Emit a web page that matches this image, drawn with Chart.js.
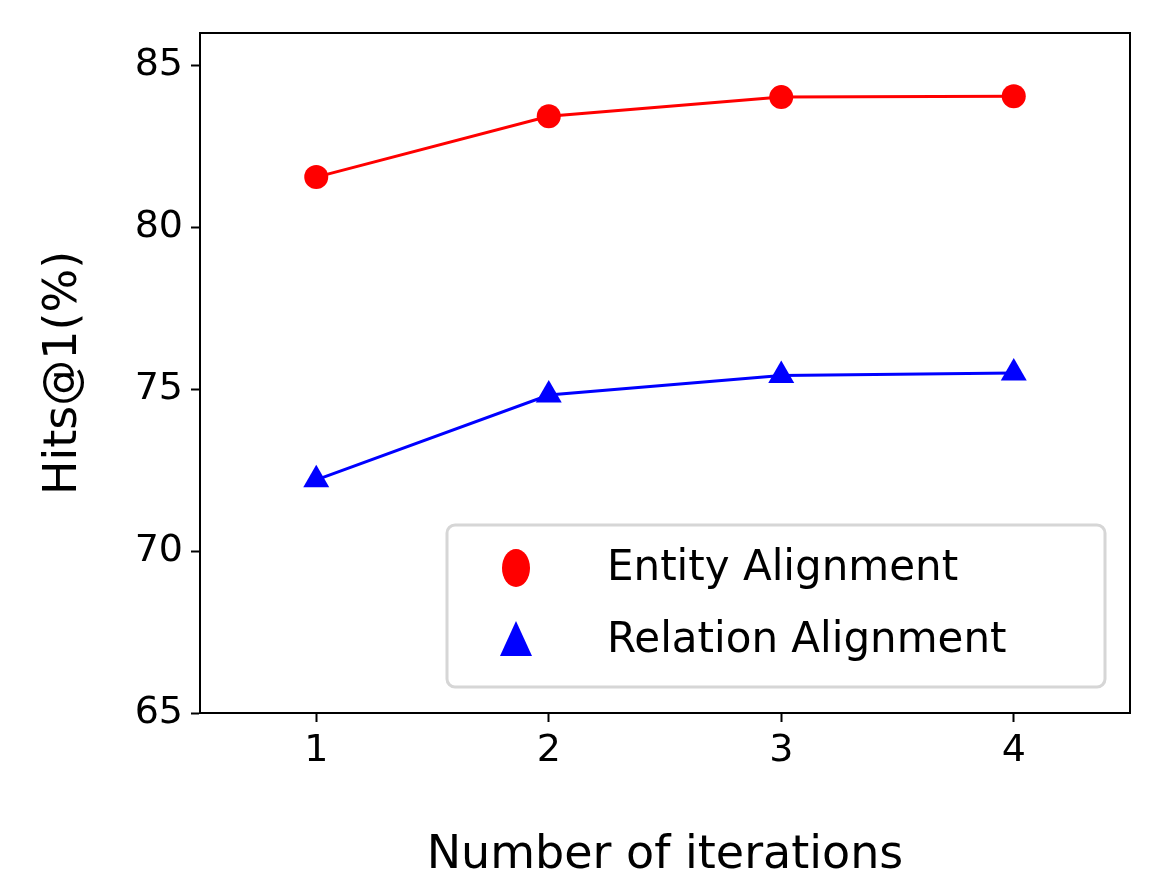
<!DOCTYPE html>
<html>
<head>
<meta charset="utf-8">
<script src="https://cdn.jsdelivr.net/npm/chart.js@4"></script>
<style>
  html, body { margin: 0; padding: 0; background: white; }
  #wrap { width: 1163px; height: 896px; }
</style>
</head>
<body>
<div id="wrap"><canvas id="myChart"></canvas></div>
<script>
const iterations = [1, 2, 3, 4];
const entityHits = [81.55, 83.43, 84.02, 84.05];
const relationHits = [72.2, 74.82, 75.42, 75.5];
const xTicks = [1, 2, 3, 4];
const yTicks = [65, 70, 75, 80, 85];

const font = "'DejaVu Sans', sans-serif";

// box around plot area + legend inside lower right
const framePlugin = {
  id: "frame",
  afterDraw(chart) {
    const { ctx, chartArea: a } = chart;
    ctx.save();
    ctx.strokeStyle = "black";
    ctx.lineWidth = 2;
    ctx.strokeRect(a.left, a.top, a.right - a.left, a.bottom - a.top);

    // legend box
    const x0 = 447, y0 = 525, w = 658, h = 162;
    ctx.beginPath();
    ctx.lineWidth = 3;
    ctx.strokeStyle = "#d6d6d6";
    ctx.fillStyle = "rgba(255,255,255,0.8)";
    ctx.roundRect(x0, y0, w, h, 8);
    ctx.fill();
    ctx.stroke();

    ctx.fillStyle = "red";
    ctx.beginPath();
    ctx.ellipse(516, 568, 14, 19, 0, 0, Math.PI * 2);
    ctx.fill();

    ctx.fillStyle = "blue";
    ctx.beginPath();
    ctx.moveTo(516, 656 - 35);
    ctx.lineTo(532, 698 - 42);
    ctx.lineTo(500, 698 - 42);
    ctx.closePath();
    ctx.fill();

    ctx.fillStyle = "black";
    ctx.font = "42px " + font;
    ctx.textBaseline = "middle";
    ctx.fillText("Entity Alignment", 607, 569, 420);
    ctx.fillText("Relation Alignment", 607, 641, 478);
    ctx.restore();
  }
};

new Chart(document.getElementById("myChart"), {
  type: "line",
  data: {
    datasets: [
      {
        label: "Entity Alignment",
        data: iterations.map((x, i) => ({ x: x, y: entityHits[i] })),
        borderColor: "red",
        backgroundColor: "red",
        borderWidth: 3,
        pointStyle: "circle",
        pointRadius: 12,
        pointBorderWidth: 0,
        tension: 0
      },
      {
        label: "Relation Alignment",
        data: iterations.map((x, i) => ({ x: x, y: relationHits[i] })),
        borderColor: "blue",
        backgroundColor: "blue",
        borderWidth: 3,
        pointStyle: "triangle",
        pointRadius: 15,
        pointBorderWidth: 0,
        tension: 0
      }
    ]
  },
  options: {
    responsive: true,
    maintainAspectRatio: false,
    animation: false,
    layout: { padding: { top: 33, right: 33, left: 0, bottom: 0 } },
    plugins: { legend: { display: false }, tooltip: { enabled: false } },
    scales: {
      x: {
        type: "linear",
        min: 0.5,
        max: 4.5,
        afterBuildTicks: s => { s.ticks = xTicks.map(v => ({ value: v })); },
        afterFit: s => { s.height = 183; },
        grid: { drawOnChartArea: false, tickLength: 9, tickWidth: 2, color: "black" },
        border: { display: true, color: "black", width: 2 },
        ticks: { color: "black", font: { family: font, size: 38 }, padding: 6 },
        title: { display: true, text: "Number of iterations", color: "black", font: { family: font, size: 46 }, padding: { top: 0, bottom: 12 } }
      },
      y: {
        min: 65,
        max: 86,
        afterBuildTicks: s => { s.ticks = yTicks.map(v => ({ value: v })); },
        afterFit: s => { s.width = 200; },
        grid: { drawOnChartArea: false, tickLength: 9, tickWidth: 2, color: "black" },
        border: { display: true, color: "black", width: 2 },
        ticks: { color: "black", font: { family: font, size: 38 }, padding: 8 },
        title: { display: true, text: "Hits@1(%)", color: "black", font: { family: font, size: 46 }, padding: { top: 36, bottom: 0 } }
      }
    }
  },
  plugins: [framePlugin]
});
</script>
</body>
</html>
